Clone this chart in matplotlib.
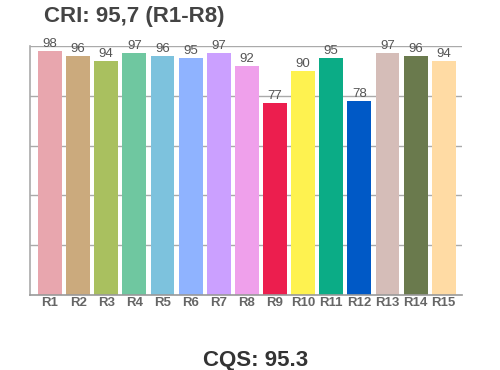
import matplotlib
matplotlib.use("Agg")
import matplotlib.pyplot as plt

plt.rcParams['font.family'] = ['Liberation Sans', 'DejaVu Sans']

labels = ["R1", "R2", "R3", "R4", "R5", "R6", "R7", "R8",
          "R9", "R10", "R11", "R12", "R13", "R14", "R15"]
values = [98, 96, 94, 97, 96, 95, 97, 92, 77, 90, 95, 78, 97, 96, 94]
colors = ["#E8A6AE", "#CBAA7D", "#A9C05F", "#6FC7A0", "#7DC2DD",
          "#8FB3FF", "#CBA0FF", "#EFA0EB", "#EC1E4E", "#FEF250",
          "#0BAC86", "#0059C6", "#D5BDB8", "#6A7A4D", "#FFDBA4"]
title_text = "CRI: 95,7 (R1-R8)"
bottom_text = "CQS: 95.3"

fig = plt.figure(figsize=(5, 3.7), dpi=100)
ax = fig.add_axes([0.06, 0.2027, 0.864, 0.673])

x = range(len(values))
bars = ax.bar(x, values, width=0.85, color=colors, zorder=2)
for b, v in zip(bars, values):
    ax.text(b.get_x() + b.get_width() / 2, v + 0.5, str(v), ha='center', va='bottom',
            fontsize=9.5, color='#555555', zorder=3)

ax.set_ylim(0, 100)
ax.set_xlim(-0.71, 14.65)
ax.set_yticks([20, 40, 60, 80, 100])
ax.yaxis.grid(True, color='#aaaaaa', linewidth=1)
ax.tick_params(axis='y', length=0, labelleft=False)
ax.set_xticks(list(x))
ax.set_xticklabels(labels, fontsize=9.5, fontweight='bold', color='#666666')
ax.tick_params(axis='x', length=0, pad=1.5)
for s in ['top', 'right']:
    ax.spines[s].set_visible(False)
ax.spines['left'].set_color('#aaaaaa')
ax.spines['bottom'].set_color('#999999')
ax.spines['left'].set_linewidth(1.2)
ax.spines['bottom'].set_linewidth(1.2)

fig.text(0.268, 0.955, title_text, ha='center', va='center', fontsize=16,
         fontweight='bold', color='#444444')
fig.text(0.512, 0.012, bottom_text, ha='center', va='baseline', fontsize=16,
         fontweight='bold', color='#333333')

fig.savefig("out.png", dpi=100)
